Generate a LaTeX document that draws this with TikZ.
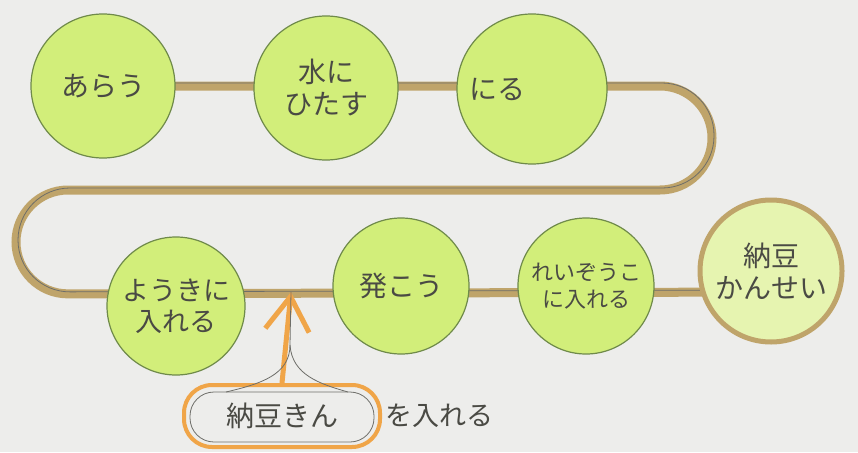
\documentclass[tikz,border=0pt]{standalone}
\usepackage{fontspec}
\setmainfont{Noto Sans CJK JP}
\usetikzlibrary{arrows.meta}
\definecolor{paper}{HTML}{EDEDEB}
\definecolor{lime}{HTML}{D2EE7A}
\definecolor{limeedge}{HTML}{6F8A4A}
\definecolor{tan}{HTML}{BFA46A}
\definecolor{pencil}{HTML}{4A4A44}
\definecolor{orng}{HTML}{F0A548}
\definecolor{paleLime}{HTML}{E6F4B0}
\tikzset{
  stepnode/.style={circle, fill=lime, draw=limeedge, line width=1.2pt, minimum size=140pt, inner sep=0pt, align=center, text=pencil, font=\fontsize{28}{32}\selectfont},
  band/.style={draw=tan, line width=9pt},
  pen/.style={draw=pencil!80, line width=0.8pt},
}
\begin{document}
\begin{tikzpicture}[x=1pt,y=-1pt]
\fill[paper] (0,0) rectangle (858,452);
\useasboundingbox (0,0) rectangle (858,452);
% nodes positions
\coordinate (ca) at (103,86);
\coordinate (cg) at (771,292);
% band
\draw[band, rounded corners=52pt] (ca) ++(0,0) -- (712,86) -- (712,190) -- (16,190) -- (16,294) -- (cg);
\draw[pen, rounded corners=52pt] (ca) ++(0,-3) -- (714,83) -- (714,188) -- (18,188) -- (18,292) -- (771,290);
% nodes
\node[stepnode, minimum size=144pt] (a) at (ca) {あらう};
\node[stepnode, minimum size=144pt] (b) at (326,88) {水に\\ひたす};
\node[stepnode, minimum size=150pt] (c) at (532,89) {\hspace*{-70pt}にる};
\node[stepnode, minimum size=138pt, font=\fontsize{27}{31}\selectfont] (d) at (176,306) {ようきに\\入れる};
\node[stepnode, minimum size=136pt] (e) at (401,286) {発こう};
\node[stepnode, minimum size=136pt, font=\fontsize{22}{27}\selectfont] (f) at (586,286) {れいぞうこ\\に入れる};
\node[stepnode, minimum size=142pt, fill=paleLime, draw=tan, line width=5pt] (g) at (771,271) {納豆\\かんせい};
% bacteria box
\node[draw=orng, line width=4pt, rounded corners=28pt, minimum width=196pt, minimum height=62pt, text=pencil, font=\fontsize{28}{32}\selectfont] (k) at (282,416) {納豆きん};
\draw[pencil!80, line width=0.8pt, rounded corners=24pt] (190,392) rectangle (374,442);
\node[text=pencil, font=\fontsize{27}{31}\selectfont, anchor=west] (t) at (k.east) {を入れる};
\coordinate (tip) at (291,292);
\draw[orng, line width=5pt, -{Straight Barb[length=34pt,width=44pt]}] (k.north) -- (tip);
\draw[pencil!80, line width=0.8pt] (tip) -- (290,345) .. controls (290,375) and (260,384) .. (226,392);
\draw[pencil!80, line width=0.8pt] (290,345) .. controls (292,375) and (320,384) .. (348,392);
\end{tikzpicture}
\end{document}
